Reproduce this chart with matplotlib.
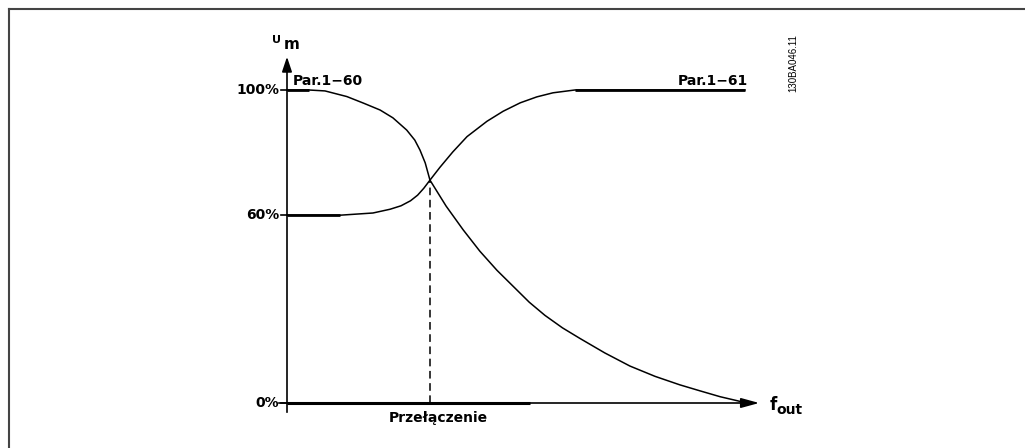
import matplotlib
matplotlib.use("Agg")
import matplotlib.pyplot as plt
from matplotlib.lines import Line2D

# ---- data (x: % of frequency axis, y: % of motor voltage) ----
curve_160_x = [0, 4.6, 8.0, 12.6, 16.1, 19.6, 22.3, 25.2, 26.9, 28.0, 29.1, 30.1,
               33.5, 37.1, 40.6, 44.2, 48.0, 51.0, 54.3, 58.0, 61.7, 66.9, 72.2, 77.5,
               82.7, 86.9, 91.2, 94.3, 96.8]
curve_160_y = [100, 100, 99.7, 97.9, 95.8, 93.6, 91.1, 87.2, 84.0, 80.8, 76.7, 71.2,
               62.9, 55.3, 48.5, 42.4, 36.7, 32.2, 28.0, 24.0, 20.6, 16.0, 11.8, 8.5,
               5.8, 3.9, 2.0, 0.9, 0]
curve_161_x = [0, 11.2, 18.1, 21.7, 24.0, 26.0, 27.5, 28.8, 30.1, 32.2, 34.9, 37.9,
               42.1, 45.5, 49.1, 52.6, 56.0, 60.6, 96.4]
curve_161_y = [60, 60, 60.7, 61.9, 63.0, 64.6, 66.4, 68.6, 71.2, 75.3, 80.2, 85.1,
               90.0, 93.2, 95.9, 97.8, 99.1, 100, 100]
flat_160_end = 4.6
flat_161_end = 11.2
switch_x = 30.1
switch_y = 71.2
switch_band_end = 51.2
ytick_values = [100, 60, 0]
ytick_labels = ["100%", "60%", "0%"]
label_160 = "Par.1\u221260"
label_161 = "Par.1\u221261"
xlabel = "Przełączenie"
doc_id = "130BA046.11"

plt.rcParams['font.family'] = ['DejaVu Sans']

fig = plt.figure(figsize=(10.25, 4.48), dpi=100)
ax = fig.add_axes([0, 0, 1, 1])
ax.set_xlim(-60.42, 155.37)
ax.set_ylim(-14.38, 128.75)
ax.axis("off")

fs = 10
fw = "bold"

# frame around figure (left and top edges)
frame_col = "#444444"
fig.add_artist(Line2D([9/1025, 9/1025], [0, 1 - 9/448], transform=fig.transFigure, color=frame_col, lw=1.5))
fig.add_artist(Line2D([9/1025, 1.0], [1 - 9/448, 1 - 9/448], transform=fig.transFigure, color=frame_col, lw=1.5))

# axes with arrows
ax.plot([0, 0], [-3, 108], color="black", lw=1.2)
ax.annotate("", xy=(0, 111.5), xytext=(0, 105),
            arrowprops=dict(arrowstyle="-|>,head_length=0.9,head_width=0.3", color="black", lw=1.2))
ax.plot([-1.7, 97], [0, 0], color="black", lw=1.2)
ax.annotate("", xy=(100, 0), xytext=(95, 0),
            arrowprops=dict(arrowstyle="-|>,head_length=1.1,head_width=0.3", color="black", lw=1.2))

# ticks
for v, lab in zip(ytick_values, ytick_labels):
    ax.plot([-1.3, 0], [v, v], color="black", lw=1.2)
    ax.text(-1.6, v, lab, ha="right", va="center", fontsize=fs, fontweight=fw)

# curves
ax.plot(curve_160_x, curve_160_y, color="black", lw=1.1, solid_joinstyle="round")
ax.plot(curve_161_x, curve_161_y, color="black", lw=1.1, solid_joinstyle="round")
ax.plot([0, flat_160_end], [100, 100], color="black", lw=2.0, solid_capstyle="butt")
ax.plot([0, flat_161_end], [60, 60], color="black", lw=2.0, solid_capstyle="butt")
ax.plot([curve_161_x[-2], curve_161_x[-1]], [100, 100], color="black", lw=2.0, solid_capstyle="butt")
ax.plot([0, switch_band_end], [0, 0], color="black", lw=2.2, solid_capstyle="butt")

# switch dashed line
ax.plot([switch_x, switch_x], [0, switch_y], color="black", lw=1.1, dashes=(5, 3))

# labels
ax.text(1.2, 101.5, label_160, ha="left", va="baseline", fontsize=fs, fontweight=fw)
ax.text(97.0, 101.5, label_161, ha="right", va="baseline", fontsize=fs, fontweight=fw)
ax.text(-3.2, 114.5, "U", ha="left", va="bottom", fontsize=fs - 2, fontweight=fw)
ax.text(-0.6, 112.0, "m", ha="left", va="bottom", fontsize=fs + 1, fontweight=fw)
ax.text(101.7, -0.5, "f", ha="left", va="center", fontsize=fs + 2, fontweight=fw)
ax.text(103.0, -2.3, "out", ha="left", va="center", fontsize=fs, fontweight=fw)
ax.text(31.8, -2.6, xlabel, ha="center", va="top", fontsize=fs, fontweight=fw)
ax.text(106.5, 108.5, doc_id, ha="center", va="center", rotation=90, fontsize=7,
        family="Liberation Sans")

fig.savefig("out.png", dpi=100, facecolor="white")
